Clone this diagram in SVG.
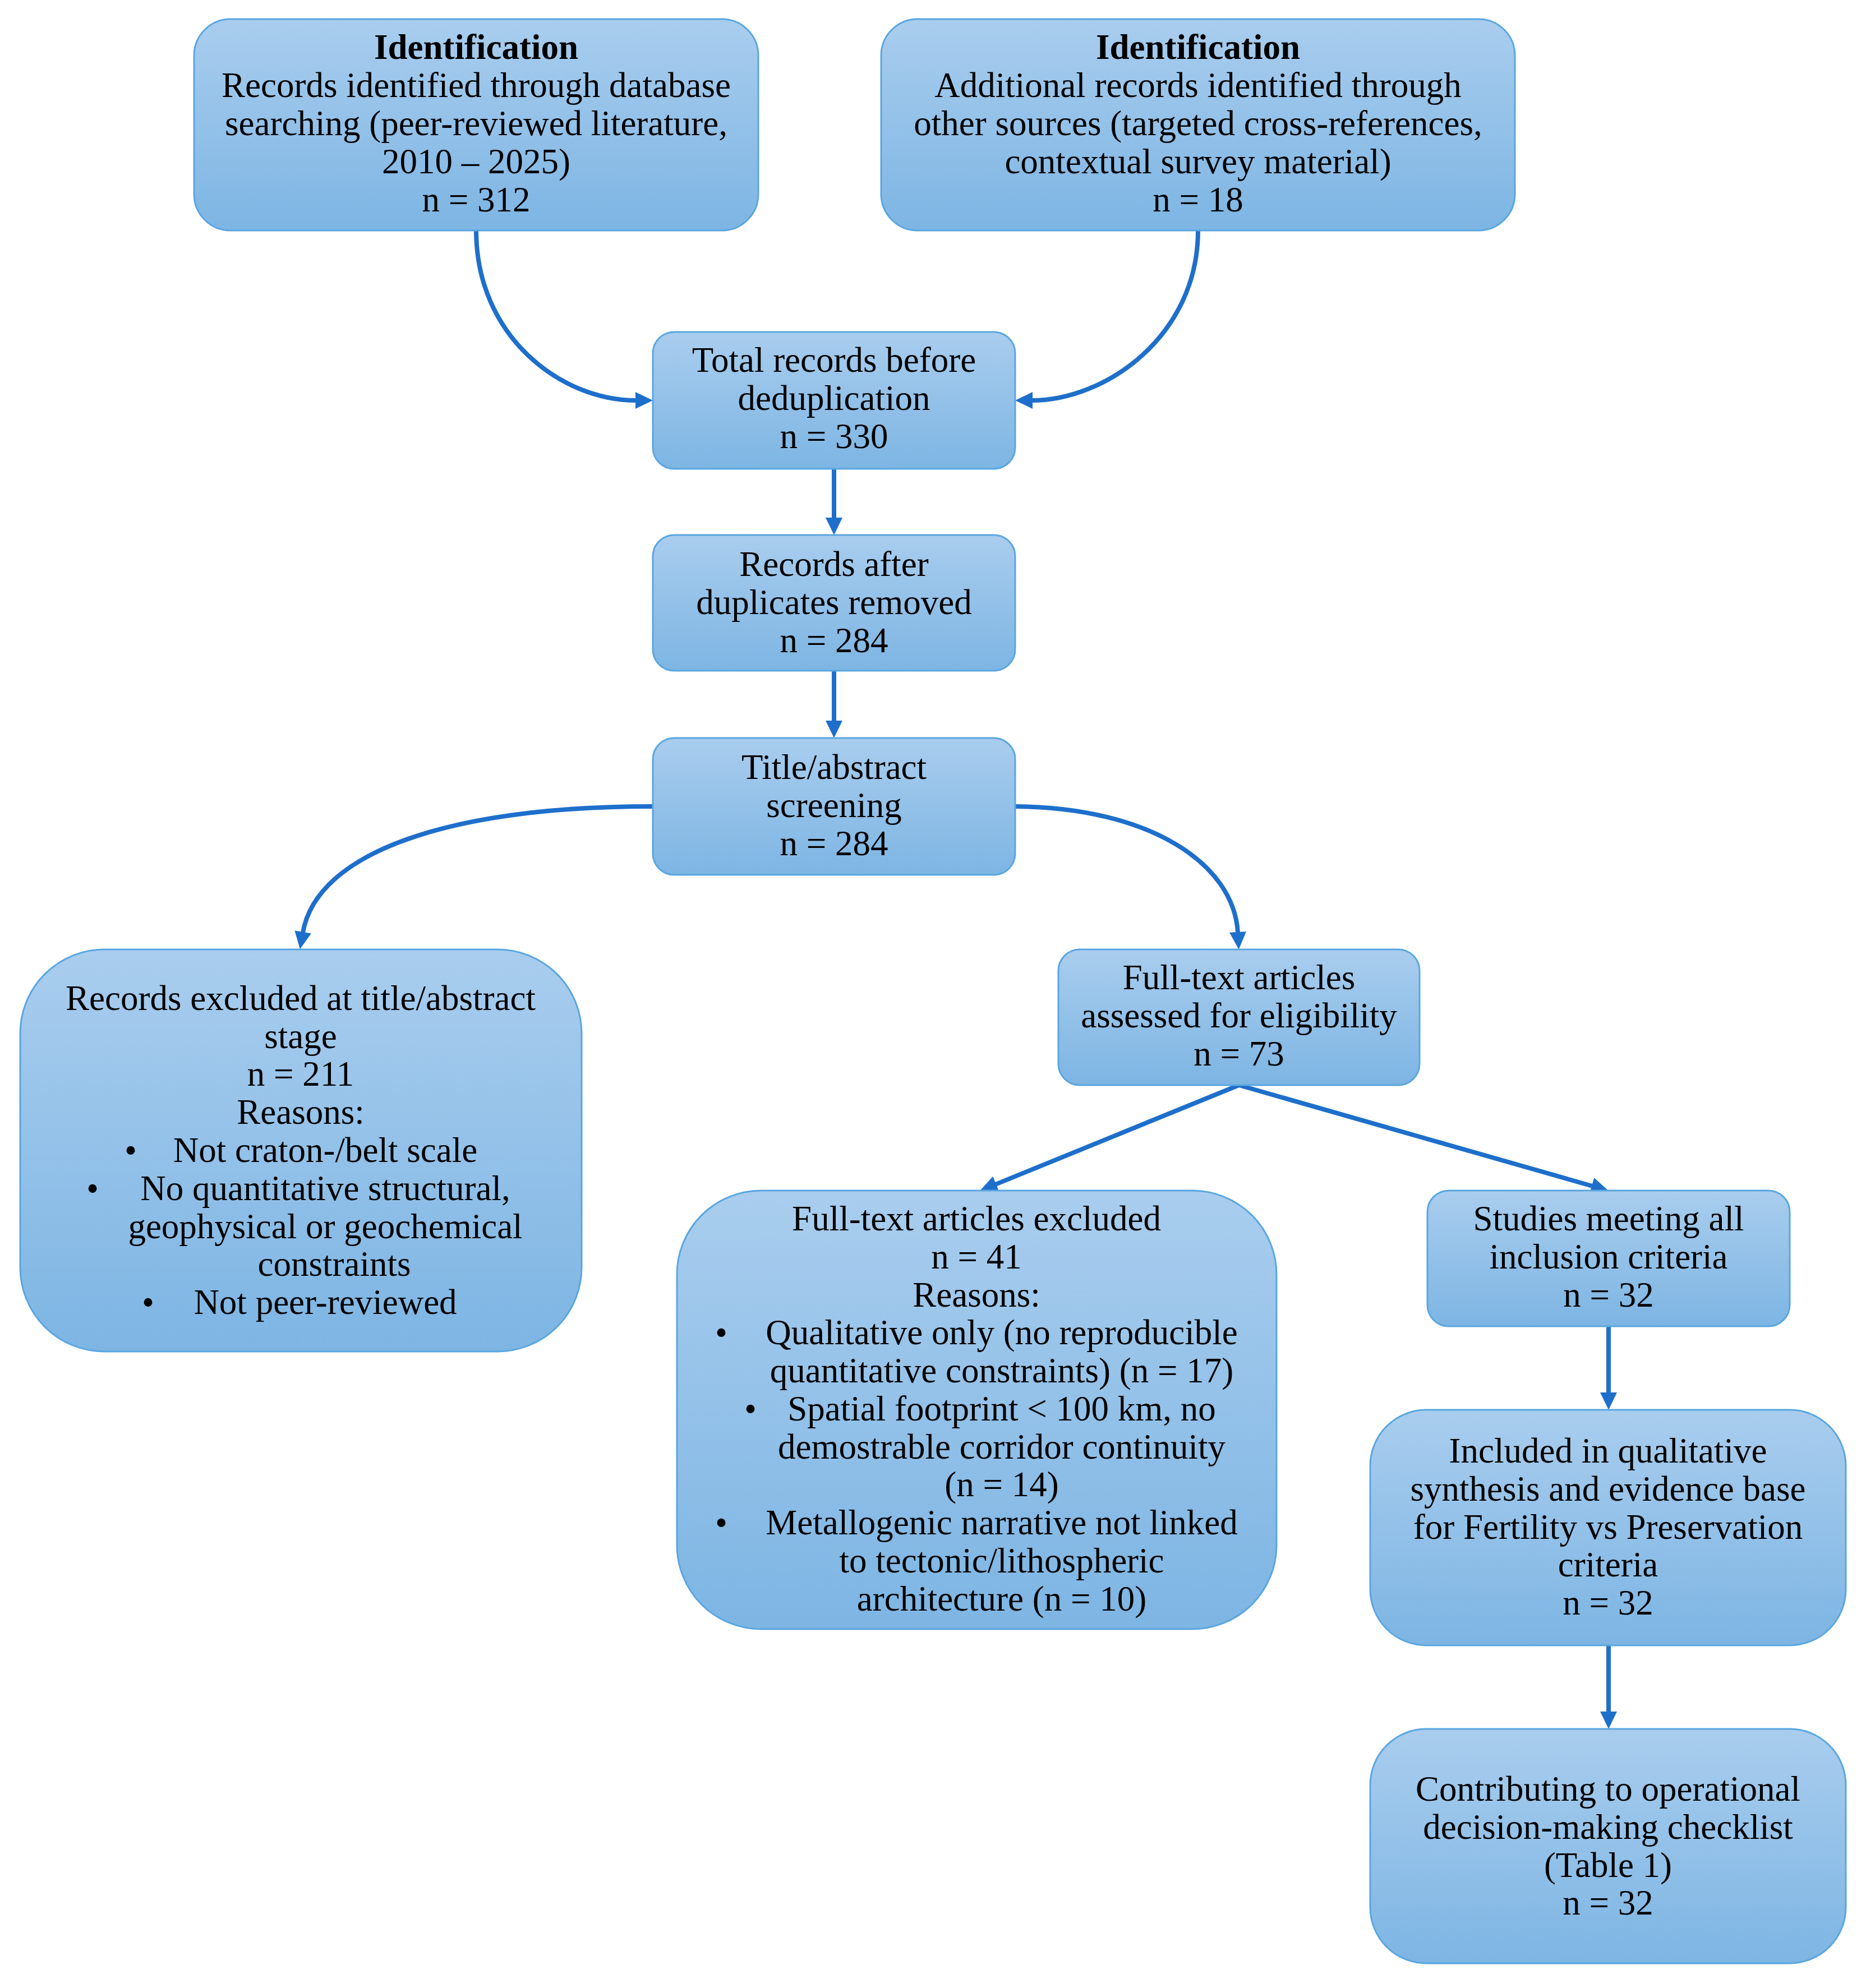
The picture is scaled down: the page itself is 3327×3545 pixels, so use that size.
<svg xmlns="http://www.w3.org/2000/svg" width="3327" height="3545" viewBox="0 0 3327 3545">
<defs>
<linearGradient id="g" x1="0" y1="0" x2="0" y2="1">
<stop offset="0" stop-color="#a9cdee"/>
<stop offset="1" stop-color="#7db5e3"/>
</linearGradient>
<marker id="ah" markerUnits="userSpaceOnUse" markerWidth="32" markerHeight="30" refX="1" refY="15" orient="auto" overflow="visible">
<path d="M0,0 L31,15 L0,30 z" fill="#1e6fcb"/>
</marker>
<style>
.box{fill:url(#g);stroke:#5aa6e0;stroke-width:3}
.t{font-family:"Liberation Serif","Times New Roman",serif;font-size:63px;fill:#000;text-anchor:middle}
.b{font-weight:bold}
.c{fill:none;stroke:#1e6fcb;stroke-width:8;marker-end:url(#ah)}
</style>
</defs>
<rect width="3327" height="3545" fill="#fff"/>
<g id="connectors">
<path class="c" d="M849,411 C849,600 1000,714 1134,714"/>
<path class="c" d="M2136,411 C2136,600 1970,714 1840,714"/>
<path class="c" d="M1487,836 L1487,924"/>
<path class="c" d="M1487,1196 L1487,1286"/>
<path class="c" d="M1164,1438 C800,1438 565,1520 540,1663"/>
<path class="c" d="M1810,1438 C2050,1440 2200,1540 2207,1663"/>
<path class="c" d="M2209,1935 L1775,2112"/>
<path class="c" d="M2209,1935 L2839,2115"/>
<path class="c" d="M2868,2365 L2868,2484"/>
<path class="c" d="M2868,2934 L2868,3053"/>
</g>
<g id="n1">
<rect class="box" x="346" y="34" width="1006" height="377" rx="65"/>
<text class="t"><tspan class="b" x="849" y="105">Identification</tspan><tspan x="849" y="173">Records identified through database</tspan><tspan x="849" y="241">searching (peer-reviewed literature,</tspan><tspan x="849" y="309">2010 – 2025)</tspan><tspan x="849" y="377">n = 312</tspan></text>
</g>
<g id="n2">
<rect class="box" x="1571" y="34" width="1130" height="377" rx="65"/>
<text class="t"><tspan class="b" x="2136" y="105">Identification</tspan><tspan x="2136" y="173">Additional records identified through</tspan><tspan x="2136" y="241">other sources (targeted cross-references,</tspan><tspan x="2136" y="309">contextual survey material)</tspan><tspan x="2136" y="377">n = 18</tspan></text>
</g>
<g id="n3">
<rect class="box" x="1164" y="592" width="646" height="244" rx="38"/>
<text class="t"><tspan x="1487" y="663">Total records before</tspan><tspan x="1487" y="731">deduplication</tspan><tspan x="1487" y="799">n = 330</tspan></text>
</g>
<g id="n4">
<rect class="box" x="1164" y="954" width="646" height="242" rx="38"/>
<text class="t"><tspan x="1487" y="1027">Records after</tspan><tspan x="1487" y="1095">duplicates removed</tspan><tspan x="1487" y="1163">n = 284</tspan></text>
</g>
<g id="n5">
<rect class="box" x="1164" y="1316" width="646" height="244" rx="38"/>
<text class="t"><tspan x="1487" y="1389">Title/abstract</tspan><tspan x="1487" y="1457">screening</tspan><tspan x="1487" y="1525">n = 284</tspan></text>
</g>
<g id="n6">
<rect class="box" x="36" y="1693" width="1001" height="717" rx="150"/>
<text class="t"><tspan x="536" y="1801">Records excluded at title/abstract</tspan><tspan x="536" y="1869">stage</tspan><tspan x="536" y="1936">n = 211</tspan><tspan x="536" y="2004">Reasons:</tspan><tspan x="580" y="2072">Not craton-/belt scale</tspan><tspan x="580" y="2140">No quantitative structural,</tspan><tspan x="580" y="2208">geophysical or geochemical</tspan><tspan x="596" y="2275">constraints</tspan><tspan x="580" y="2343">Not peer-reviewed</tspan></text>
<text class="t"><tspan x="233" y="2072">•</tspan><tspan x="165" y="2140">•</tspan><tspan x="264" y="2343">•</tspan></text>
</g>
<g id="n7">
<rect class="box" x="1887" y="1693" width="644" height="242" rx="38"/>
<text class="t"><tspan x="2209" y="1764">Full-text articles</tspan><tspan x="2209" y="1832">assessed for eligibility</tspan><tspan x="2209" y="1900">n = 73</tspan></text>
</g>
<g id="n8">
<rect class="box" x="1207" y="2123" width="1069" height="782" rx="150"/>
<text class="t"><tspan x="1741" y="2194">Full-text articles excluded</tspan><tspan x="1741" y="2262">n = 41</tspan><tspan x="1741" y="2330">Reasons:</tspan><tspan x="1786" y="2397">Qualitative only (no reproducible</tspan><tspan x="1786" y="2465">quantitative constraints) (n = 17)</tspan><tspan x="1786" y="2533">Spatial footprint &lt; 100 km, no</tspan><tspan x="1786" y="2601">demostrable corridor continuity</tspan><tspan x="1786" y="2668">(n = 14)</tspan><tspan x="1786" y="2736">Metallogenic narrative not linked</tspan><tspan x="1786" y="2804">to tectonic/lithospheric</tspan><tspan x="1786" y="2872">architecture (n = 10)</tspan></text>
<text class="t"><tspan x="1286" y="2397">•</tspan><tspan x="1338" y="2533">•</tspan><tspan x="1286" y="2736">•</tspan></text>
</g>
<g id="n9">
<rect class="box" x="2545" y="2123" width="646" height="242" rx="38"/>
<text class="t"><tspan x="2868" y="2194">Studies meeting all</tspan><tspan x="2868" y="2262">inclusion criteria</tspan><tspan x="2868" y="2330">n = 32</tspan></text>
</g>
<g id="n10">
<rect class="box" x="2443" y="2514" width="848" height="420" rx="100"/>
<text class="t"><tspan x="2867" y="2608">Included in qualitative</tspan><tspan x="2867" y="2676">synthesis and evidence base</tspan><tspan x="2867" y="2744">for Fertility vs Preservation</tspan><tspan x="2867" y="2811">criteria</tspan><tspan x="2867" y="2879">n = 32</tspan></text>
</g>
<g id="n11">
<rect class="box" x="2443" y="3083" width="848" height="418" rx="100"/>
<text class="t"><tspan x="2867" y="3211">Contributing to operational</tspan><tspan x="2867" y="3279">decision-making checklist</tspan><tspan x="2867" y="3347">(Table 1)</tspan><tspan x="2867" y="3414">n = 32</tspan></text>
</g>
</svg>
